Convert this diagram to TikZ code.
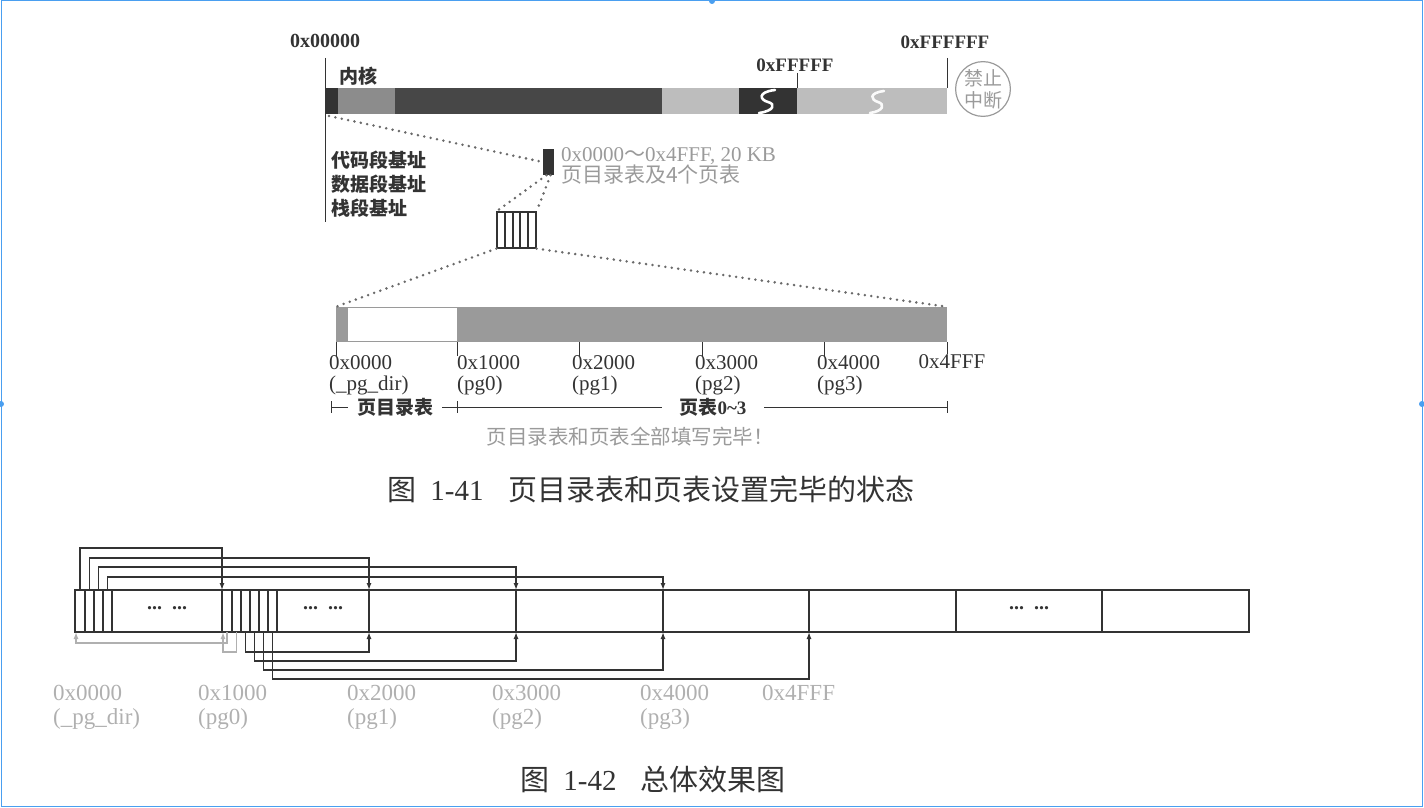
\documentclass[tikz,border=0pt]{standalone}
\usepackage{fontspec}
\setmainfont{Liberation Serif}
\newfontfamily\cjk{Noto Sans CJK SC}
\usetikzlibrary{arrows.meta}

\definecolor{ink}{HTML}{333333}
\definecolor{darkseg}{HTML}{474747}
\definecolor{midseg}{HTML}{8C8C8C}
\definecolor{lightseg}{HTML}{BDBDBD}
\definecolor{pgfill}{HTML}{9A9A9A}
\definecolor{dotgrey}{HTML}{6A6A6A}
\definecolor{txtgrey}{HTML}{9A9A9A}
\definecolor{lbgrey}{HTML}{B0B0B0}
\definecolor{frameblue}{HTML}{4A9FF0}

\tikzset{
  lbl/.style={inner sep=0pt, text=ink},
  dots/.style={draw=dotgrey, line width=2.8pt, line cap=round, dash pattern=on 0pt off 6.5pt},
  wire/.style={draw=ink, line width=1.3pt},
  greywire/.style={draw=lbgrey, line width=1.3pt},
  tip/.style={-{Latex[length=7pt,width=5pt]}},
}

\begin{document}
\begin{tikzpicture}[x=1pt,y=-1pt]
  \useasboundingbox (0,0) rectangle (1424,808);
  % screenshot frame
  \draw[frameblue, line width=1pt] (1,1) rectangle (1422,806);
  \foreach \p in {(712,1),(1,404),(1422,404)} \fill[frameblue] \p circle[radius=3];

  % ---- fig 1-41: linear address space
  \draw[ink, line width=1pt] (325,58) -- (325,222);
  \fill[ink] (325,88) rectangle (338,114);
  \fill[midseg] (338,88) rectangle (395,114);
  \fill[darkseg] (395,88) rectangle (662,114);
  \fill[lightseg] (662,88) rectangle (739,114);
  \fill[ink] (739,88) rectangle (797,114);
  \fill[lightseg] (797,88) rectangle (947,114);
  \draw[white, line width=2.6pt, line cap=round] (775,90) .. controls (757,92) and (760,100) .. (768,102) .. controls (776,104) and (774,111) .. (759,113);
  \draw[white!92!lightseg, line width=2.6pt, line cap=round] (884,91) .. controls (868,93) and (871,100) .. (878,102) .. controls (885,104) and (884,111) .. (870,113);
  \draw[ink, line width=1pt] (797,73) -- (797,88);
  \draw[ink, line width=1pt] (947,58) -- (947,88);
  \coordinate (kbl) at (329,116);

  \node[lbl, font=\bfseries\fontsize{20}{20}\selectfont] (a0) at (325,41) {0x00000};
  \node[lbl, font=\cjk\bfseries\fontsize{19}{19}\selectfont] (kern) at (358,76) {内核};
  \node[lbl, font=\bfseries\fontsize{19}{19}\selectfont] (a1m) at (795,65) {0xFFFFF};
  \node[lbl, font=\bfseries\fontsize{19}{19}\selectfont] (a16m) at (945,42) {0xFFFFFF};
  \node[circle, draw=txtgrey, line width=1.2pt, minimum size=54pt, inner sep=0pt, text=txtgrey,
        align=center, font=\cjk\fontsize{19}{22}\selectfont] (nomask) at (983,89) {禁止\\中断};
  \node[lbl, anchor=west, align=left, font=\cjk\bfseries\fontsize{19}{24}\selectfont] (segs) at (331,184) {代码段基址\\数据段基址\\栈段基址};

  % page tables in memory
  \node[fill=ink, minimum width=11pt, minimum height=26pt, inner sep=0pt] (mini) at (548.5,162) {};
  \node[lbl, text=txtgrey, anchor=north west, align=left, font=\fontsize{21}{21}\selectfont] (pgnote) at (561,147)
    {0x0000{\cjk ～}0x4FFF, 20 KB\\{\cjk 页目录表及4个页表}};
  \node[draw=ink, line width=1.2pt, minimum width=39pt, minimum height=36pt, inner sep=0pt] (strip) at (516.5,230) {};
  \foreach \x in {505,513,520,528} \draw[ink, line width=1.2pt] (\x,212) -- (\x,248);
  \draw[dots] (kbl) -- (mini.west);
  \draw[dots] ([xshift=-2pt]mini.south) -- (strip.north west);
  \draw[dots] ([xshift=2pt]mini.south) -- (strip.north east);

  % zoomed 20 KB
  \node[minimum width=611pt, minimum height=35pt, inner sep=0pt] (pgbar) at (641.5,324.5) {};
  \fill[pgfill] (336,307) rectangle (347,342);
  \draw[pgfill, line width=1pt, fill=white] (347,307.5) rectangle (457,341.5);
  \fill[pgfill] (457,307) rectangle (947,342);
  \draw[dots] (strip.south west) -- (pgbar.north west);
  \draw[dots] (strip.south east) -- (pgbar.north east);
  \foreach \x/\lx/\t/\n in {336/329/0x0000/(\_pg\_dir), 457/457/0x1000/(pg0), 579/572/0x2000/(pg1),
                          702/695/0x3000/(pg2), 824/817/0x4000/(pg3)} {
    \draw[ink, line width=0.8pt] (\x,342) -- (\x,356);
    \node[lbl, anchor=north west, align=left, font=\fontsize{21}{21}\selectfont] at (\lx,355) {\t\\\n};
  }
  \draw[ink, line width=0.8pt] (947,342) -- (947,354);
  \node[lbl, font=\fontsize{21}{21}\selectfont] (aend) at (952,362) {0x4FFF};

  % ranges
  \draw[ink, line width=0.8pt] (331,401) -- (331,413) (331,407) -- (348,407);
  \node[lbl, font=\cjk\bfseries\fontsize{19}{19}\selectfont] (pdir) at (395,407) {页目录表};
  \draw[ink, line width=0.8pt] (442,407) -- (662,407) (457,401) -- (457,413);
  \node[lbl, font=\bfseries\fontsize{19}{19}\selectfont] (ptabs) at (713,407) {{\cjk 页表}0\textasciitilde3};
  \draw[ink, line width=0.8pt] (764,407) -- (947,407) (947,401) -- (947,413);
  \node[lbl, text=txtgrey, font=\cjk\fontsize{20.5}{20.5}\selectfont] (done) at (630,437) {页目录表和页表全部填写完毕！};

  \node[lbl, font=\fontsize{29}{29}\selectfont] (cap41) at (651,489)
    {{\cjk 图}\hspace{14pt}1-41\hspace{25pt}{\cjk 页目录表和页表设置完毕的状态}};

  % ---- fig 1-42: all in one
  \node[draw=ink, line width=1.3pt, minimum width=1174pt, minimum height=42pt, inner sep=0pt] (mem) at (662,611) {};
  \foreach \x in {85,94,103,112,222,232,241,250,259,268,277,369,516,663,809,956,1102}
    \draw[wire] (\x,590) -- (\x,632);
  \node[lbl, font=\bfseries\fontsize{20}{20}\selectfont] (gap0) at (167,608) {...\ \ ...};
  \node[lbl, font=\bfseries\fontsize{20}{20}\selectfont] (gap1) at (323,608) {...\ \ ...};
  \node[lbl, font=\bfseries\fontsize{20}{20}\selectfont] (gap2) at (1029,608) {...\ \ ...};

  % entries of _pg_dir and pg0
  \foreach \n/\x in {d0/80, d1/89.5, d2/98.5, d3/107.5} \coordinate (\n) at (\x,590);
  \foreach \n/\x in {e0/227, e1/236.5, e2/245.5, e3/254.5, e4/263.5, e5/272.5} \coordinate (\n) at (\x,632);
  % page starts
  \foreach \n/\x in {t0/222, t1/369, t2/516, t3/663} \coordinate (\n) at (\x,590);
  \foreach \n/\x in {bd/76, b0/223, b1/369, b2/516, b3/663, b4/809} \coordinate (\n) at (\x,632);

  \draw[wire,tip] (d0) -- ++(0,-42) -| (t0);
  \draw[wire,tip] (d1) -- ++(0,-32) -| (t1);
  \draw[wire,tip] (d2) -- ++(0,-23) -| (t2);
  \draw[wire,tip] (d3) -- ++(0,-13) -| (t3);
  \draw[greywire,tip] (e0) -- ++(0,11) -| (bd);
  \draw[greywire,tip] (e1) -- ++(0,20) -| (b0);
  \draw[wire,tip] (e2) -- ++(0,20) -| (b1);
  \draw[wire,tip] (e3) -- ++(0,29) -| (b2);
  \draw[wire,tip] (e4) -- ++(0,38) -| (b3);
  \draw[wire,tip] (e5) -- ++(0,47) -| (b4);

  \foreach \lx/\t/\n in {53/0x0000/(\_pg\_dir), 198/0x1000/(pg0), 347/0x2000/(pg1), 492/0x3000/(pg2), 640/0x4000/(pg3)}
    \node[lbl, text=lbgrey, anchor=north west, align=left, font=\fontsize{23}{24}\selectfont] at (\lx,685) {\t\\\n};
  \node[lbl, text=lbgrey, anchor=north west, font=\fontsize{23}{24}\selectfont] (lend) at (762,685) {0x4FFF};

  \node[lbl, font=\fontsize{29}{29}\selectfont] (cap42) at (653,779)
    {{\cjk 图}\hspace{14pt}1-42\hspace{24pt}{\cjk 总体效果图}};
\end{tikzpicture}
\end{document}
